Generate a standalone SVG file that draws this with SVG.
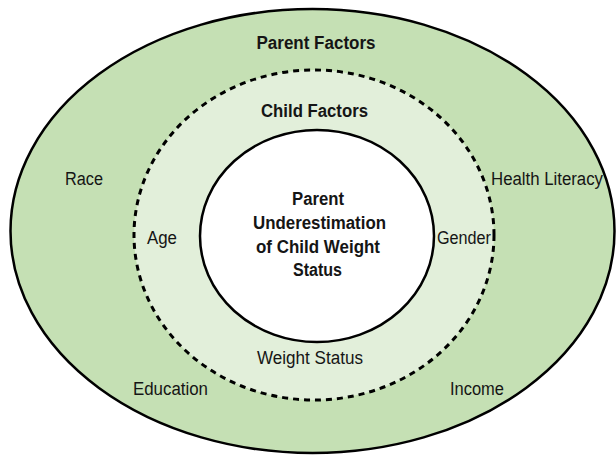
<svg xmlns="http://www.w3.org/2000/svg" width="616" height="457" viewBox="0 0 616 457">
  <style>
    .ring { stroke: #000; stroke-width: 2.5; }
    .outer { fill: #c5e0b4; }
    .middle { fill: #e2efda; stroke-width: 3; stroke-dasharray: 6 5; }
    .core { fill: #ffffff; }
    text { font-family: "Liberation Sans", Arial, sans-serif; font-size: 18px; fill: #151515; }
    .title { font-weight: bold; text-anchor: middle; }
    .mid { text-anchor: middle; }
  </style>

  <!-- Outer ring: parent factors -->
  <g id="parent-factors">
    <ellipse class="ring outer" cx="312.5" cy="231" rx="302" ry="222"/>
    <text class="title" x="316" y="49" textLength="119" lengthAdjust="spacingAndGlyphs">Parent Factors</text>
    <text x="65" y="185" textLength="38" lengthAdjust="spacingAndGlyphs">Race</text>
    <text x="491" y="185" textLength="112" lengthAdjust="spacingAndGlyphs">Health Literacy</text>
    <text x="133" y="395" textLength="75" lengthAdjust="spacingAndGlyphs">Education</text>
    <text x="450" y="395" textLength="54" lengthAdjust="spacingAndGlyphs">Income</text>
  </g>

  <!-- Middle ring: child factors -->
  <g id="child-factors">
    <ellipse class="ring middle" cx="314" cy="235" rx="180" ry="165"/>
    <text class="title" x="314.5" y="117" textLength="107" lengthAdjust="spacingAndGlyphs">Child Factors</text>
    <text x="147" y="244" textLength="30" lengthAdjust="spacingAndGlyphs">Age</text>
    <text x="437" y="244" textLength="54" lengthAdjust="spacingAndGlyphs">Gender</text>
    <text class="mid" x="310" y="364" textLength="106" lengthAdjust="spacingAndGlyphs">Weight Status</text>
  </g>

  <!-- Core: outcome -->
  <g id="outcome">
    <ellipse class="ring core" cx="317" cy="236" rx="117" ry="106"/>
    <text class="title" x="318" y="205" textLength="52" lengthAdjust="spacingAndGlyphs">Parent</text>
    <text class="title" x="319.5" y="229" textLength="133" lengthAdjust="spacingAndGlyphs">Underestimation</text>
    <text class="title" x="318" y="253" textLength="124" lengthAdjust="spacingAndGlyphs">of Child Weight</text>
    <text class="title" x="317.5" y="276" textLength="49" lengthAdjust="spacingAndGlyphs">Status</text>
  </g>
</svg>
